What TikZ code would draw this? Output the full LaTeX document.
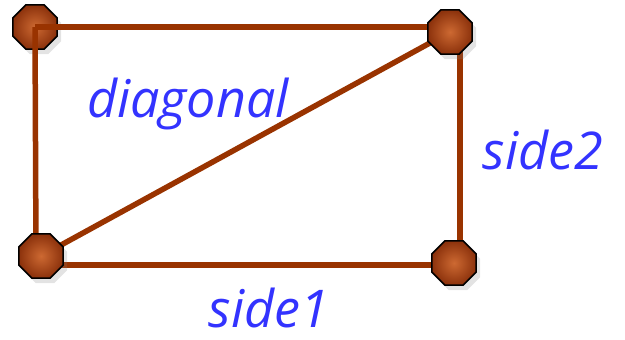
\documentclass[tikz,border=0pt]{standalone}
\usepackage{fontspec}
\setmainfont{Open Sans}
\usetikzlibrary{shapes.geometric,shadows,backgrounds}
\definecolor{rcedge}{RGB}{153,51,0}
\definecolor{rcdark}{RGB}{140,50,12}
\definecolor{rclight}{RGB}{205,105,50}
\definecolor{rcink}{RGB}{51,51,255}
\tikzset{
  vtx/.style={
    regular polygon, regular polygon sides=8, minimum size=48pt,
    inner sep=0pt, draw=black, line width=1.6pt,
    inner color=rclight, outer color=rcdark,
    drop shadow={shadow xshift=4pt, shadow yshift=-5pt, opacity=0.22}
  },
  seg/.style={draw=rcedge, line width=5.5pt},
  lbl/.style={text=rcink, font=\fontsize{52}{56}\selectfont\itshape,
    anchor=base, inner sep=0pt},
  every picture/.append style={x=1pt, y=-1pt}
}
\begin{document}
\begin{tikzpicture}
  \useasboundingbox (0,0) rectangle (625,340);
  \node[vtx] (tr) at (450,32) {};
  \node[vtx] (bl) at (41,256) {};
  \node[vtx] (br) at (454,263) {};
  \begin{scope}[on background layer]
    \node[vtx] (tl) at (35,27) {};
    \draw[seg] (tl.center) -- ([yshift=5pt]tr.center);
    \draw[seg] (tl.center) -- ([xshift=-5pt]bl.center);
    \draw[seg] ([xshift=10pt]tr.center) -- ([xshift=6pt]br.center);
    \draw[seg] ([yshift=-9pt]bl.center) -- ([yshift=-2pt]br.center);
    \draw[seg] (bl.center) -- (tr.center);
  \end{scope}
  \node[lbl] (diag) at (188,117) {diagonal};
  \node[lbl] (s2) at (543,169) {side2};
  \node[lbl] (s1) at (269,327) {side1};
\end{tikzpicture}
\end{document}
